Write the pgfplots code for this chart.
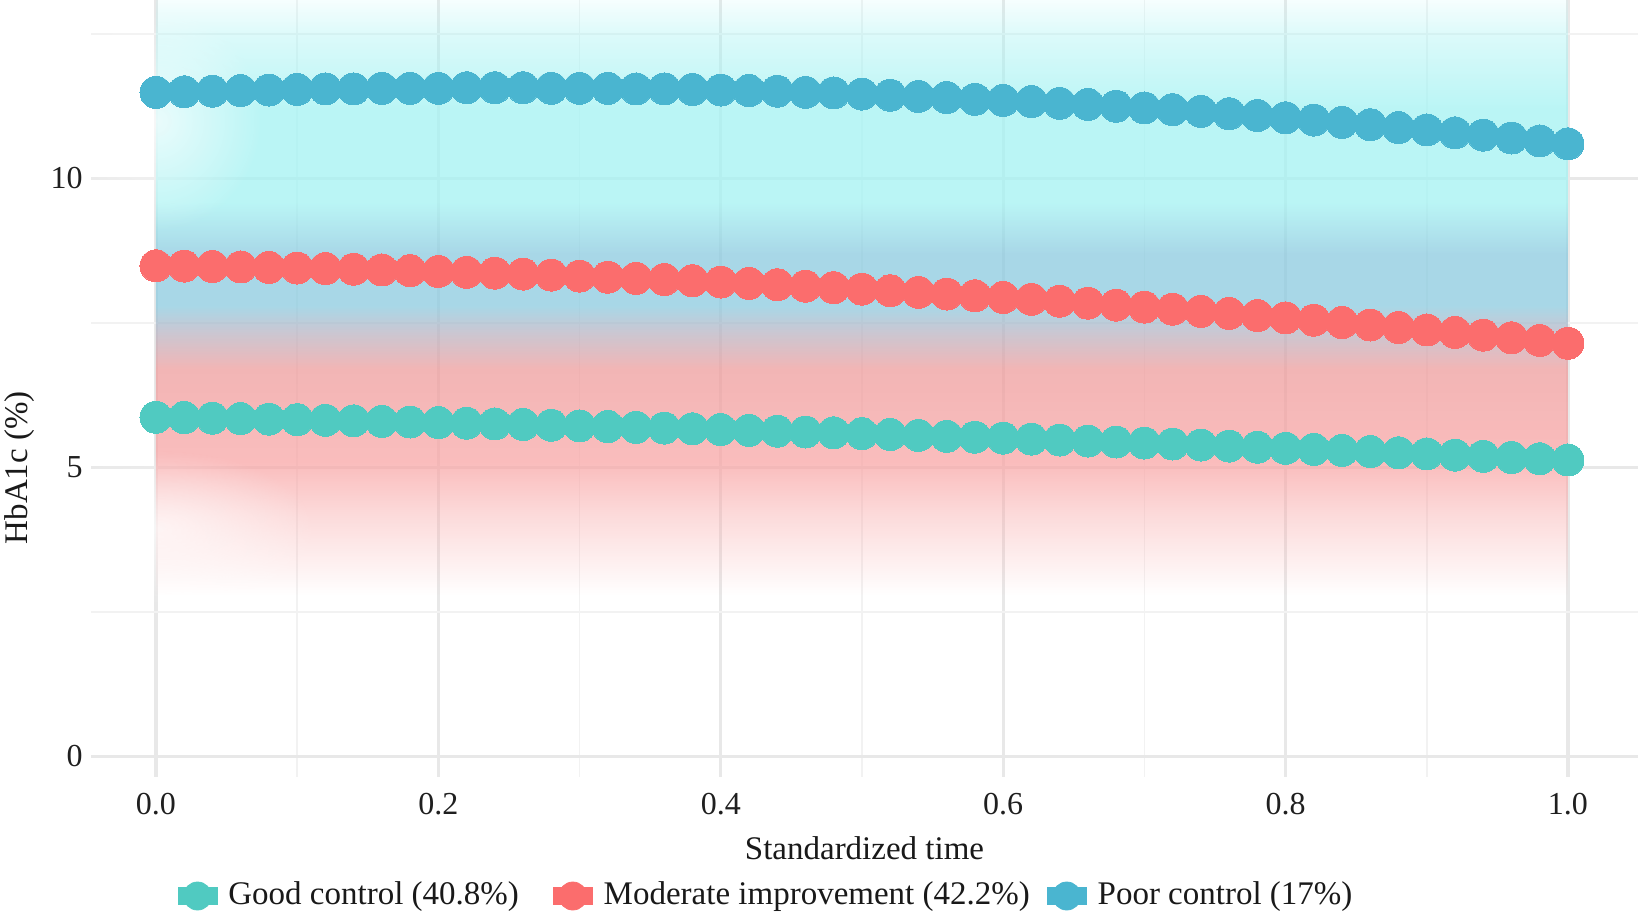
\documentclass[border=0pt]{standalone}
\usepackage{fontspec}
\setmainfont{Liberation Serif}
\usepackage{pgfplots}
\pgfplotsset{compat=1.18}
\usepackage{pgfplotstable}
\usetikzlibrary{fadings}

\definecolor{cGood}{RGB}{80,202,193}
\definecolor{cMod}{RGB}{251,109,109}
\definecolor{cPoor}{RGB}{74,181,208}
\definecolor{sCyan}{RGB}{163,242,242}
\definecolor{sBlue}{RGB}{139,202,223}
\definecolor{sMauve}{RGB}{179,182,198}
\definecolor{sPink}{RGB}{238,156,156}
\definecolor{sPinkL}{RGB}{248,166,166}

% band rectangle spans y = 2.8 ... 13.088 ; mapped to 25bp..75bp of the shading
\pgfdeclareverticalshading{bandshade}{100bp}{color(0bp)=(sPinkL); color(36.18bp)=(sPinkL);
  color(43.95bp)=(sPink); color(47.36bp)=(sMauve); color(49.3bp)=(sBlue);
  color(53.67bp)=(sBlue); color(58.05bp)=(sCyan); color(100bp)=(sCyan)}
\pgfdeclareverticalshading{bandmask}{100bp}{color(0bp)=(pgftransparent!100);
  color(25bp)=(pgftransparent!100); color(31.8bp)=(pgftransparent!45);
  color(36.18bp)=(pgftransparent!0); color(65.82bp)=(pgftransparent!0);
  color(71.66bp)=(pgftransparent!46); color(75bp)=(pgftransparent!88);
  color(100bp)=(pgftransparent!100)}
\pgfdeclarefading{bandfade}{\pgfuseshading{bandmask}}

\tikzfading[name=fuzzyellipse, inner color=transparent!0, outer color=transparent!100]

\pgfplotstableread{
x good mod poor
0.00 5.870 8.490 11.49
0.02 5.862 8.484 11.50
0.04 5.853 8.477 11.51
0.06 5.845 8.469 11.52
0.08 5.836 8.461 11.53
0.10 5.827 8.451 11.54
0.12 5.817 8.441 11.55
0.14 5.807 8.430 11.55
0.16 5.797 8.418 11.56
0.18 5.787 8.405 11.56
0.20 5.776 8.392 11.56
0.22 5.766 8.377 11.57
0.24 5.754 8.362 11.57
0.26 5.743 8.346 11.57
0.28 5.731 8.329 11.56
0.30 5.719 8.311 11.56
0.32 5.707 8.292 11.56
0.34 5.695 8.272 11.55
0.36 5.682 8.252 11.55
0.38 5.669 8.231 11.54
0.40 5.656 8.208 11.53
0.42 5.642 8.185 11.52
0.44 5.628 8.162 11.51
0.46 5.614 8.137 11.49
0.48 5.600 8.111 11.48
0.50 5.585 8.085 11.46
0.52 5.570 8.058 11.44
0.54 5.555 8.030 11.42
0.56 5.539 8.001 11.40
0.58 5.524 7.971 11.37
0.60 5.508 7.940 11.35
0.62 5.491 7.909 11.33
0.64 5.475 7.877 11.30
0.66 5.458 7.843 11.28
0.68 5.441 7.809 11.25
0.70 5.423 7.775 11.22
0.72 5.406 7.739 11.19
0.74 5.388 7.702 11.16
0.76 5.370 7.665 11.12
0.78 5.351 7.627 11.09
0.80 5.332 7.588 11.05
0.82 5.313 7.548 11.01
0.84 5.294 7.507 10.97
0.86 5.275 7.465 10.93
0.88 5.255 7.423 10.88
0.90 5.235 7.379 10.84
0.92 5.214 7.335 10.79
0.94 5.194 7.290 10.75
0.96 5.173 7.244 10.70
0.98 5.151 7.198 10.65
1.00 5.130 7.150 10.60
}\traj

\begin{document}
\fontsize{16.5}{19.8}\selectfont
\begin{tikzpicture}
\begin{axis}[
  set layers,
  scale only axis, width=773.5pt, height=388.5pt,
  xmin=-0.046, xmax=1.0496, ymin=-0.355, ymax=13.088,
  xtick={0,0.2,0.4,0.6,0.8,1.0},
  xticklabels={0.0,0.2,0.4,0.6,0.8,1.0},
  minor xtick={0.1,0.3,0.5,0.7,0.9},
  ytick={0,5,10}, yticklabels={0,5,10},
  minor ytick={2.5,7.5,12.5},
  grid=both,
  major grid style={draw=black!9, line width=1.6pt},
  minor grid style={draw=black!5, line width=0.8pt},
  major tick length=0pt, minor tick length=0pt,
  axis line style={draw=none},
  tick label style={font=\fontsize{16}{19}\selectfont, text=black!88, inner sep=0pt},
  xticklabel style={anchor=center, yshift=-13.5pt},
  yticklabel style={anchor=east, xshift=-4pt},
  xlabel={Standardized time}, ylabel={HbA1c (\%)},
  label style={text=black!90},
  xlabel style={at={(axis description cs:0.5,-0.0914)}, anchor=center},
  ylabel style={at={(axis description cs:-0.0459,0.398)}, anchor=center},
  legend columns=3,
  legend style={at={(axis description cs:0.4357,0)}, anchor=center, yshift=-59.5pt,
    draw=none, fill=none, font=\fontsize{16.5}{19.8}\selectfont, text=black!90,
    nodes={inner sep=0pt}, cells={anchor=west},
    /tikz/column 1/.style={column sep=5.5pt},
    /tikz/column 2/.style={column sep=17pt},
    /tikz/column 3/.style={column sep=5.5pt},
    /tikz/column 4/.style={column sep=8.5pt},
    /tikz/column 5/.style={column sep=5.5pt}},
]
% gradient ribbon (multi-stop vertical shading, fading out at top and bottom)
\addplot[forget plot, draw=none, shade, shading=bandshade, fill opacity=0.75, path fading=bandfade] coordinates {(0,2.8) (1,2.8) (1,13.088) (0,13.088)} -- cycle;
% softer left edge of the ribbons
\addplot[forget plot, draw=none, fill=white, fill opacity=0.7, path fading=fuzzyellipse] coordinates {(-0.075,9.1) (0.075,9.1) (0.075,12.9) (-0.075,12.9)} -- cycle;
\addplot[forget plot, draw=none, fill=white, fill opacity=0.65, path fading=fuzzyellipse] coordinates {(-0.11,2.6) (0.11,2.6) (0.11,5.3) (-0.11,5.3)} -- cycle;
% trajectories
\addplot[forget plot, only marks, color=cGood, mark=*, mark size=8pt, mark options={fill=cGood, draw=cGood, line width=0pt}] table[x=x, y=good] {\traj};
\addplot[forget plot, only marks, color=cMod, mark=*, mark size=8pt, mark options={fill=cMod, draw=cMod, line width=0pt}] table[x=x, y=mod] {\traj};
\addplot[forget plot, only marks, color=cPoor, mark=*, mark size=8pt, mark options={fill=cPoor, draw=cPoor, line width=0pt}] table[x=x, y=poor] {\traj};
% legend
\addlegendimage{legend image code/.code={\fill[cGood] (0pt,-4.25pt) rectangle (19.5pt,4.25pt); \fill[cGood] (9.75pt,0pt) circle (7pt);}}
\addlegendentry{Good control (40.8\%)}
\addlegendimage{legend image code/.code={\fill[cMod] (0pt,-4.25pt) rectangle (19.5pt,4.25pt); \fill[cMod] (9.75pt,0pt) circle (7pt);}}
\addlegendentry{Moderate improvement (42.2\%)}
\addlegendimage{legend image code/.code={\fill[cPoor] (0pt,-4.25pt) rectangle (19.5pt,4.25pt); \fill[cPoor] (9.75pt,0pt) circle (7pt);}}
\addlegendentry{Poor control (17\%)}
\end{axis}
\pgfresetboundingbox
\path[use as bounding box] (-45.5pt,-70.5pt) rectangle (775.5pt,388.5pt);
\end{tikzpicture}
\end{document}
